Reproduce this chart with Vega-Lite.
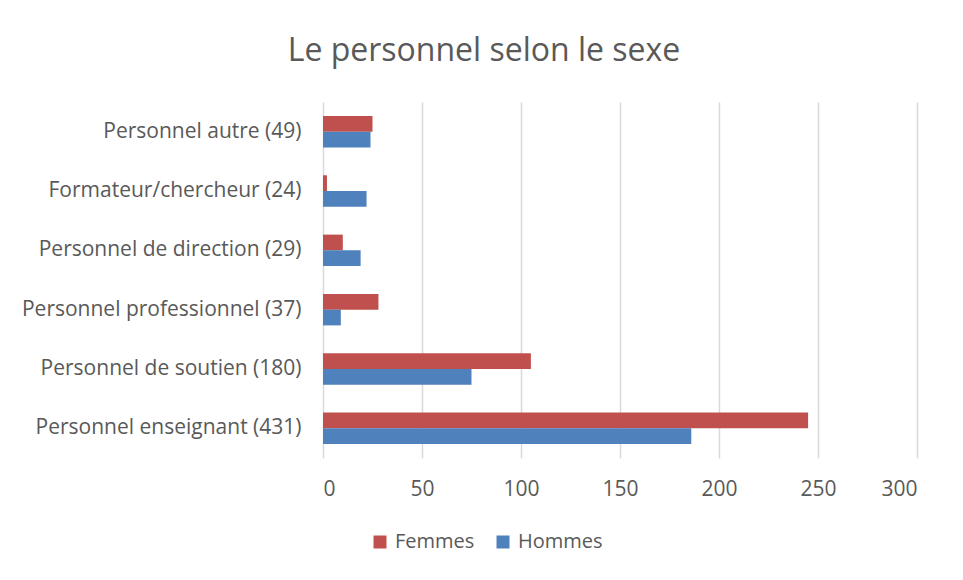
{
  "$schema": "https://vega.github.io/schema/vega-lite/v6.json",
  "width": 594,
  "height": 356,
  "autosize": "none",
  "padding": {"left": 323, "top": 102, "right": 46, "bottom": 122},
  "background": "white",
  "title": {
    "text": "Le personnel selon le sexe",
    "frame": "group",
    "anchor": "middle",
    "dx": -136,
    "offset": 34,
    "fontSize": 32,
    "font": "Open Sans",
    "fontWeight": "normal",
    "color": "#595959"
  },
  "data": {
    "values": [
      {"cat": "Personnel autre (49)", "sexe": "Femmes", "n": 25},
      {"cat": "Personnel autre (49)", "sexe": "Hommes", "n": 24},
      {"cat": "Formateur/chercheur (24)", "sexe": "Femmes", "n": 2},
      {"cat": "Formateur/chercheur (24)", "sexe": "Hommes", "n": 22},
      {"cat": "Personnel de direction (29)", "sexe": "Femmes", "n": 10},
      {"cat": "Personnel de direction (29)", "sexe": "Hommes", "n": 19},
      {"cat": "Personnel professionnel (37)", "sexe": "Femmes", "n": 28},
      {"cat": "Personnel professionnel (37)", "sexe": "Hommes", "n": 9},
      {"cat": "Personnel de soutien (180)", "sexe": "Femmes", "n": 105},
      {"cat": "Personnel de soutien (180)", "sexe": "Hommes", "n": 75},
      {"cat": "Personnel enseignant (431)", "sexe": "Femmes", "n": 245},
      {"cat": "Personnel enseignant (431)", "sexe": "Hommes", "n": 186}
    ]
  },
  "mark": {"type": "bar"},
  "encoding": {
    "y": {
      "field": "cat",
      "type": "nominal",
      "sort": null,
      "title": null,
      "scale": {"paddingInner": 0.47, "paddingOuter": 0.235},
      "axis": {
        "domain": false,
        "ticks": false,
        "grid": false,
        "labelFont": "Open Sans",
        "labelFontSize": 21,
        "labelColor": "#595959",
        "labelPadding": 22,
        "labelLimit": 400
      }
    },
    "yOffset": {"field": "sexe", "type": "nominal", "sort": ["Femmes", "Hommes"]},
    "x": {
      "field": "n",
      "type": "quantitative",
      "title": null,
      "scale": {"domain": [0, 300], "nice": false},
      "axis": {
        "values": [0, 50, 100, 150, 200, 250, 300],
        "domain": false,
        "ticks": false,
        "grid": true,
        "gridColor": "#d9d9d9",
        "gridWidth": 1.5,
        "labelFont": "Open Sans",
        "labelFontSize": 21,
        "labelColor": "#595959",
        "labelPadding": 20
      }
    },
    "color": {
      "field": "sexe",
      "type": "nominal",
      "scale": {"domain": ["Femmes", "Hommes"], "range": ["#C0504D", "#4F81BD"]},
      "legend": {
        "title": null,
        "orient": "none",
        "direction": "horizontal",
        "legendX": 47,
        "legendY": 430,
        "symbolType": "square",
        "symbolSize": 169,
        "symbolStrokeWidth": 0,
        "labelFont": "Open Sans",
        "labelFontSize": 20,
        "labelColor": "#595959",
        "labelOffset": 5,
        "columnPadding": 18
      }
    }
  },
  "config": {"view": {"stroke": null}}
}
